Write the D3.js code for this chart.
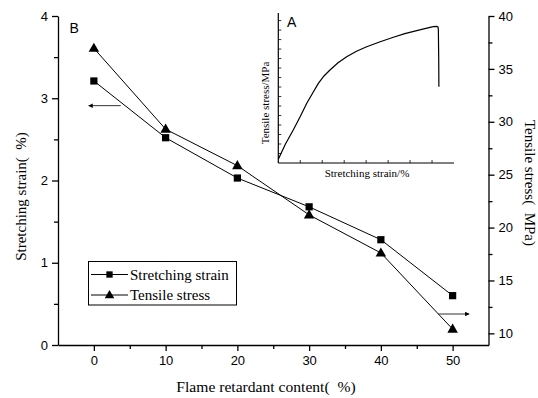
<!DOCTYPE html>
<html><head><meta charset="utf-8">
<script src="https://cdn.jsdelivr.net/npm/d3@7"></script>
<style>
body{margin:0;background:#fff;}
svg text{fill:#000;}
.serif{font-family:"Liberation Serif","Times New Roman",serif;}
.sans{font-family:"Liberation Sans",Arial,sans-serif;}
</style></head>
<body><svg id="c" width="538" height="398"></svg>
<script>
// ---- data ----
const content = [0, 10, 20, 30, 40, 50];
const strain = [3.21, 2.52, 2.03, 1.68, 1.28, 0.60];
const stress = [36.95, 29.3, 25.85, 21.2, 17.6, 10.4];
const xTicks = [0, 10, 20, 30, 40, 50];
const xMinor = [5, 15, 25, 35, 45];
const yLTicks = [0, 1, 2, 3, 4];
const yLMinor = [0.5, 1.5, 2.5, 3.5];
const yRTicks = [10, 15, 20, 25, 30, 35, 40];
const yRMinor = [12.5, 17.5, 22.5, 27.5, 32.5, 37.5];
// arrows: [x0, x1, y] in data units
const arrowLeft = [3.74, -0.72, 2.91];   // left axis
const arrowRight = [47.96, 52.3, 11.83]; // right axis
// inset curve (arbitrary units 0-100)
const insetX = [0, 4, 8.5, 12.5, 16.2, 19.5, 22.8, 26, 29.4, 34, 38.9, 44.5, 50.3, 58, 65.5, 72, 78.8, 84, 88.2, 90.1, 90.9, 91.1, 91.3, 91.4];
const insetY = [2.5, 12.5, 22, 31, 39.8, 46.5, 53.1, 58, 62, 66.8, 70.9, 74.5, 77.5, 80.8, 83.8, 86.2, 88.2, 89.8, 90.9, 91.1, 90.7, 88.7, 70, 50.9];
const insetYTicks = d3.range(1, 16).map(i => i * 6.33);
const insetXTicks = [12.5, 25, 37.5, 50, 62.5, 75, 87.5];

const svg = d3.select("#c");
const x = d3.scaleLinear([-5, 55], [58, 488.5]);
const yL = d3.scaleLinear([0, 4], [345, 16]);
const yR = d3.scaleLinear([8.9, 40], [345, 16]);

function styleAxis(g, fs) {
  g.selectAll("path,line").attr("stroke", "#000").attr("stroke-width", 1.3);
  g.selectAll("text").attr("class", "sans").style("font-size", fs + "px").attr("fill", "#000");
}

// axes
const gb = svg.append("g").attr("transform", "translate(0,345)")
  .call(d3.axisBottom(x).tickValues(xTicks).tickSize(6).tickPadding(5).tickSizeOuter(0));
styleAxis(gb, 13);
const gbm = svg.append("g").attr("transform", "translate(0,345)")
  .call(d3.axisBottom(x).tickValues(xMinor).tickSize(4).tickFormat("").tickSizeOuter(0));
styleAxis(gbm, 13); gbm.select("path").remove();

const gl = svg.append("g").attr("transform", "translate(58,0)")
  .call(d3.axisLeft(yL).tickValues(yLTicks).tickSize(6).tickPadding(4).tickFormat(d3.format("d")).tickSizeOuter(0));
styleAxis(gl, 13);
const glm = svg.append("g").attr("transform", "translate(58,0)")
  .call(d3.axisLeft(yL).tickValues(yLMinor).tickSize(4).tickFormat("").tickSizeOuter(0));
styleAxis(glm, 13); glm.select("path").remove();

const gr = svg.append("g").attr("transform", "translate(488.5,0)")
  .call(d3.axisRight(yR).tickValues(yRTicks).tickSize(6).tickPadding(4).tickSizeOuter(0));
styleAxis(gr, 13);
const grm = svg.append("g").attr("transform", "translate(488.5,0)")
  .call(d3.axisRight(yR).tickValues(yRMinor).tickSize(4).tickFormat("").tickSizeOuter(0));
styleAxis(grm, 13); grm.select("path").remove();

// axis titles
svg.append("text").attr("class", "serif").attr("x", 266).attr("y", 392)
  .attr("text-anchor", "middle").style("font-size", "15.6px").style("white-space", "pre")
  .text("Flame retardant content(  %)");
svg.append("text").attr("class", "serif").attr("transform", "translate(25.5,196.5) rotate(-90)")
  .attr("text-anchor", "middle").style("font-size", "15px").style("white-space", "pre")
  .text("Stretching strain(  %)");
svg.append("text").attr("class", "serif").attr("transform", "translate(525,183) rotate(90)")
  .attr("text-anchor", "middle").style("font-size", "15px").style("white-space", "pre")
  .text("Tensile stress(  MPa)");
svg.append("text").attr("class", "sans").attr("x", 69.5).attr("y", 32.7)
  .style("font-size", "14px").text("B");

// series
const line = d3.line();
const strainPts = content.map((c, i) => [x(c), yL(strain[i])]);
const stressPts = content.map((c, i) => [x(c), yR(stress[i])]);
svg.append("path").attr("d", line(strainPts)).attr("fill", "none").attr("stroke", "#000").attr("stroke-width", 1);
svg.append("path").attr("d", line(stressPts)).attr("fill", "none").attr("stroke", "#000").attr("stroke-width", 1);
const sq = d3.symbol(d3.symbolSquare, 52);
const tri = d3.symbol(d3.symbolTriangle, 48);
svg.selectAll(".sq").data(strainPts).join("path").attr("class", "sq")
  .attr("transform", d => `translate(${d[0]},${d[1]})`).attr("d", sq()).attr("fill", "#000");
svg.selectAll(".tri").data(stressPts).join("path").attr("class", "tri")
  .attr("transform", d => `translate(${d[0]},${d[1]+0.5})`).attr("d", tri()).attr("fill", "#000");

// arrows
svg.append("defs").append("marker").attr("id", "ah").attr("viewBox", "0 0 10 10")
  .attr("refX", 9).attr("refY", 5).attr("markerWidth", 8).attr("markerHeight", 4.5)
  .attr("markerUnits", "userSpaceOnUse").attr("orient", "auto")
  .append("path").attr("d", "M0,0 L10,5 L0,10 z").attr("fill", "#000");
function arrow(a, ys) {
  svg.append("line").attr("x1", x(a[0])).attr("x2", x(a[1])).attr("y1", ys(a[2])).attr("y2", ys(a[2]))
    .attr("stroke", "#333").attr("stroke-width", 1).attr("marker-end", "url(#ah)");
}
arrow(arrowLeft, yL);
arrow(arrowRight, yR);

// legend
const lg = svg.append("g");
lg.append("rect").attr("x", 88.5).attr("y", 261.5).attr("width", 148).attr("height", 43.5)
  .attr("fill", "#fff").attr("stroke", "#000").attr("stroke-width", 1);
const legendItems = [["Stretching strain", sq], ["Tensile stress", tri]];
legendItems.forEach((it, i) => {
  const cy = 274.5 + i * 20.5;
  lg.append("line").attr("x1", 91).attr("x2", 128).attr("y1", cy).attr("y2", cy)
    .attr("stroke", "#000").attr("stroke-width", 1);
  lg.append("path").attr("transform", `translate(109.5,${cy + (i ? 0.5 : 0)})`)
    .attr("d", i ? d3.symbol(d3.symbolTriangle, 40)() : d3.symbol(d3.symbolSquare, 40)()).attr("fill", "#000");
  lg.append("text").attr("class", "serif").attr("x", 130).attr("y", cy + 5)
    .style("font-size", "15px").text(it[0]);
});

// inset
const ix = d3.scaleLinear([0, 100], [278.3, 454]);
const iy = d3.scaleLinear([0, 100], [163, 13]);
const ig = svg.append("g");
ig.append("line").attr("x1", ix(0)).attr("x2", ix(0)).attr("y1", iy(0)).attr("y2", iy(100)).attr("stroke", "#000").attr("stroke-width", 1.2);
ig.append("line").attr("x1", ix(0)).attr("x2", ix(100)).attr("y1", iy(0)).attr("y2", iy(0)).attr("stroke", "#000").attr("stroke-width", 1.2);
ig.selectAll(".iyt").data(insetYTicks).join("line")
  .attr("x1", ix(0)).attr("x2", ix(0) + 3).attr("y1", d => iy(d)).attr("y2", d => iy(d))
  .attr("stroke", "#000").attr("stroke-width", 0.8);
ig.selectAll(".ixt").data(insetXTicks).join("line")
  .attr("x1", d => ix(d)).attr("x2", d => ix(d)).attr("y1", iy(0)).attr("y2", iy(0) - 3)
  .attr("stroke", "#000").attr("stroke-width", 0.8);
ig.append("path").attr("d", d3.line().curve(d3.curveLinear)(insetX.map((v, i) => [ix(v), iy(insetY[i])])))
  .attr("fill", "none").attr("stroke", "#000").attr("stroke-width", 1.2);
ig.append("text").attr("class", "sans").attr("x", 287).attr("y", 27).style("font-size", "14px").text("A");
ig.append("text").attr("class", "serif").attr("transform", "translate(268.5,103) rotate(-90)")
  .attr("text-anchor", "middle").style("font-size", "11px").text("Tensile stress/MPa");
ig.append("text").attr("class", "serif").attr("x", 367).attr("y", 177)
  .attr("text-anchor", "middle").style("font-size", "11px").text("Stretching strain/%");
</script></body></html>
